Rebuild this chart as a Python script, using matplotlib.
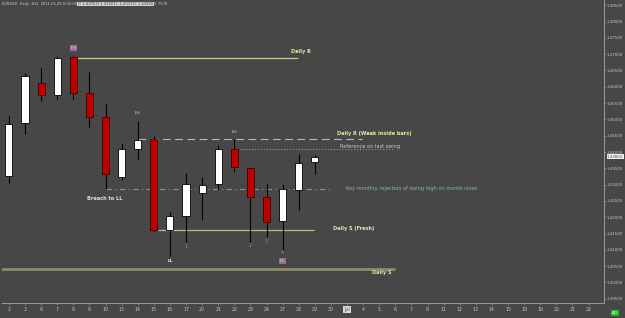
import numpy as np
import matplotlib
matplotlib.use("Agg")
from matplotlib import pyplot as plt
from matplotlib.transforms import blended_transform_factory

# EURUSD daily, June 2011
days = ["2", "3", "6", "7", "8", "9", "10", "13", "14", "15", "16", "17", "20", "21", "22",
        "23", "24", "27", "28", "29", "30", "Jul", "4", "5", "6", "7", "8", "11", "12", "13",
        "14", "15", "18", "19", "20", "21", "22"]

opens  = [1.43264, 1.44889, 1.46116, 1.45748, 1.46914, 1.45810, 1.45073, 1.43233, 1.44092, 1.44399,
          1.41608, 1.42037, 1.42743, 1.43019, 1.44092, 1.43509, 1.42620, 1.41884, 1.42835, 1.43701]
highs  = [1.45104, 1.46423, 1.46576, 1.46944, 1.46944, 1.46454, 1.45503, 1.44276, 1.44951, 1.44491,
          1.42160, 1.43356, 1.43233, 1.44215, 1.44399, 1.43540, 1.43019, 1.43019, 1.43939, 1.43921]
lows   = [1.43049, 1.44552, 1.45564, 1.45626, 1.45626, 1.44767, 1.42865, 1.43141, 1.43755, 1.41546,
          1.40810, 1.41240, 1.41914, 1.42835, 1.43387, 1.41209, 1.41393, 1.40994, 1.42221, 1.43317]
closes = [1.44859, 1.46331, 1.45748, 1.46883, 1.45810, 1.45073, 1.43325, 1.44092, 1.44368, 1.41608,
          1.42037, 1.43019, 1.42988, 1.44092, 1.43540, 1.42620, 1.41853, 1.42865, 1.43663, 1.43850]

price_ticks = np.arange(1.395, 1.4851, 0.005)

# horizontal levels: (price, start bar, end bar)
daily_r = (1.4688, 4.22, 17.95)
daily_r_weak = (1.4440, 8.0, 21.9)
ref_swing = (1.4409, 14.16, 23.85)
key_monthly = (1.4287, 6.0, 20.06)
daily_s_fresh = (1.4161, 9.25, 18.94)
daily_s = (1.4041, -0.6, 23.98)

bg = "#474747"
fig = plt.figure(figsize=(6.25, 3.18), dpi=100, facecolor=bg)
ax = fig.add_axes([2 / 625, 15 / 318, 602 / 625, 303 / 318], facecolor=bg)

x = np.arange(len(opens))
o = np.array(opens); c = np.array(closes)
up = c >= o
ax.vlines(x, lows, highs, color="black", lw=0.8, zorder=2)
ax.bar(x[up], (c - o)[up], bottom=o[up], width=0.44, color="white",
       edgecolor="black", linewidth=0.6, zorder=3)
ax.bar(x[~up], (o - c)[~up], bottom=c[~up], width=0.44, color="#c00000",
       edgecolor="#400000", linewidth=0.6, zorder=3)

# levels
ax.hlines(daily_r[0], daily_r[1], daily_r[2], color="#c9c59c", lw=0.9, zorder=1)
ax.hlines(daily_r_weak[0], daily_r_weak[1], daily_r_weak[2], color="#b9c09a", lw=0.8,
          linestyles=(0, (7, 4)), zorder=1)
ax.hlines(ref_swing[0], ref_swing[1], ref_swing[2], color="#a8a8a8", lw=0.7,
          linestyles=(0, (1, 2)), zorder=1)
ax.hlines(key_monthly[0], key_monthly[1], key_monthly[2], color="#7d9a88", lw=0.8,
          linestyles=(0, (5, 3, 1, 3)), zorder=1)
ax.hlines(daily_s_fresh[0], daily_s_fresh[1], daily_s_fresh[2], color="#bdbb98", lw=0.9, zorder=1)
ax.hlines(daily_s[0], daily_s[1], daily_s[2], color="#8b8b70", lw=2.0, zorder=1)

yel = "#e8e6a6"
fs = 3.6
ax.text(17.52, 1.4707, "Daily R", color=yel, fontsize=fs, fontweight="bold", va="center")
ax.text(20.37, 1.4458, "Daily R (Weak inside bars)", color=yel, fontsize=fs, fontweight="bold", va="center")
ax.text(20.56, 1.4418, "Reference on last swing", color="#c8c8c8", fontsize=fs, va="center")
ax.text(20.93, 1.4287, "Key monthly rejection of swing high on month close", color="#7cc48e",
        fontsize=fs, va="center")
ax.text(20.12, 1.4164, "Daily S (Fresh)", color=yel, fontsize=fs, fontweight="bold", va="center")
ax.text(22.55, 1.4029, "Daily S", color=yel, fontsize=fs, fontweight="bold", va="center")
ax.text(5.96, 1.4256, "Breach to LL", color="#e0e0e0", fontsize=fs, fontweight="bold",
        ha="center", va="center")

# swing markers
purple = dict(boxstyle="square,pad=0.15", fc="#9a6b93", ec="none")
ax.text(4, 1.4719, "HH", color="#f0d8f0", fontsize=3, ha="center", va="center", bbox=purple)
ax.text(17, 1.4066, "HL", color="#f0d8f0", fontsize=3, ha="center", va="center", bbox=purple)
ax.text(8, 1.4520, "LH", color="#d8d8d8", fontsize=3.2, ha="center", va="center")
ax.text(14, 1.4461, "LH", color="#d8d8d8", fontsize=3.2, ha="center", va="center")
ax.text(10, 1.4066, "LL", color="#f0f0f0", fontsize=3.2, fontweight="bold", ha="center", va="center")
for xi, lab, yy in [(11, "1", 1.4109), (15, "2", 1.4112), (16, "3", 1.4127), (17, "4", 1.4091)]:
    ax.text(xi, yy, lab, color="#d08440", fontsize=3.4, ha="center", va="center")

ax.set_xlim(-0.43, 36.96)
ax.set_ylim(1.39369, 1.48662)

ax.yaxis.tick_right()
ax.set_yticks(price_ticks)
ax.set_yticklabels(["%.5f" % p for p in price_ticks])
ax.set_xticks(np.arange(len(days)))
ax.set_xticklabels(days)
ax.tick_params(colors="#9a9a9a", labelcolor="#c4c4c4", labelsize=3.4, length=1.5, width=0.5, pad=1.5)
ax.tick_params(axis="y", labelsize=2.9, pad=1.0, length=1.2)
for lab in ax.get_xticklabels():
    if lab.get_text() == "Jul":
        lab.set_bbox(dict(boxstyle="square,pad=0.15", fc="#d8d8d8", ec="none"))
        lab.set_color("#606060")

for s in ["top", "left"]:
    ax.spines[s].set_visible(False)
for s in ["right", "bottom"]:
    ax.spines[s].set_color("#9a9a9a")
    ax.spines[s].set_linewidth(0.7)

# current price tag
tr = blended_transform_factory(ax.transAxes, ax.transData)
ax.text(1.005, closes[-1], "%.5f" % closes[-1], transform=tr, fontsize=2.9, color="#505050",
        va="center", ha="left", bbox=dict(boxstyle="square,pad=0.12", fc="#f0f0f0", ec="none"))

# header
hy = 1 - 4 / 318
fig.text(2 / 625, hy, "EURUSD  Daily  #12  2011-06-29 0:00:00", color="#d0d0d0",
         fontsize=2.6, va="center")
hdr = dict(boxstyle="square,pad=0.1", fc="#cfcfcf", ec="none")
for xp, t in [(77.5, "O 1.43701"), (96.5, "H 1.43921"), (115.5, "L 1.43317"), (134.5, "C 1.43850")]:
    fig.text(xp / 625, hy, t, color="#404040", fontsize=2.7, va="center", bbox=hdr)
fig.text(154.5 / 625, hy, "V 7576", color="#d0d0d0", fontsize=2.7, va="center")

fig.text(615 / 625, 5 / 318, "AD", color="#e0ffe0", fontsize=3.2, ha="center", va="center",
         bbox=dict(boxstyle="square,pad=0.3", fc="#22bb22", ec="none"))

fig.savefig("out.png", dpi=100, facecolor=bg)
